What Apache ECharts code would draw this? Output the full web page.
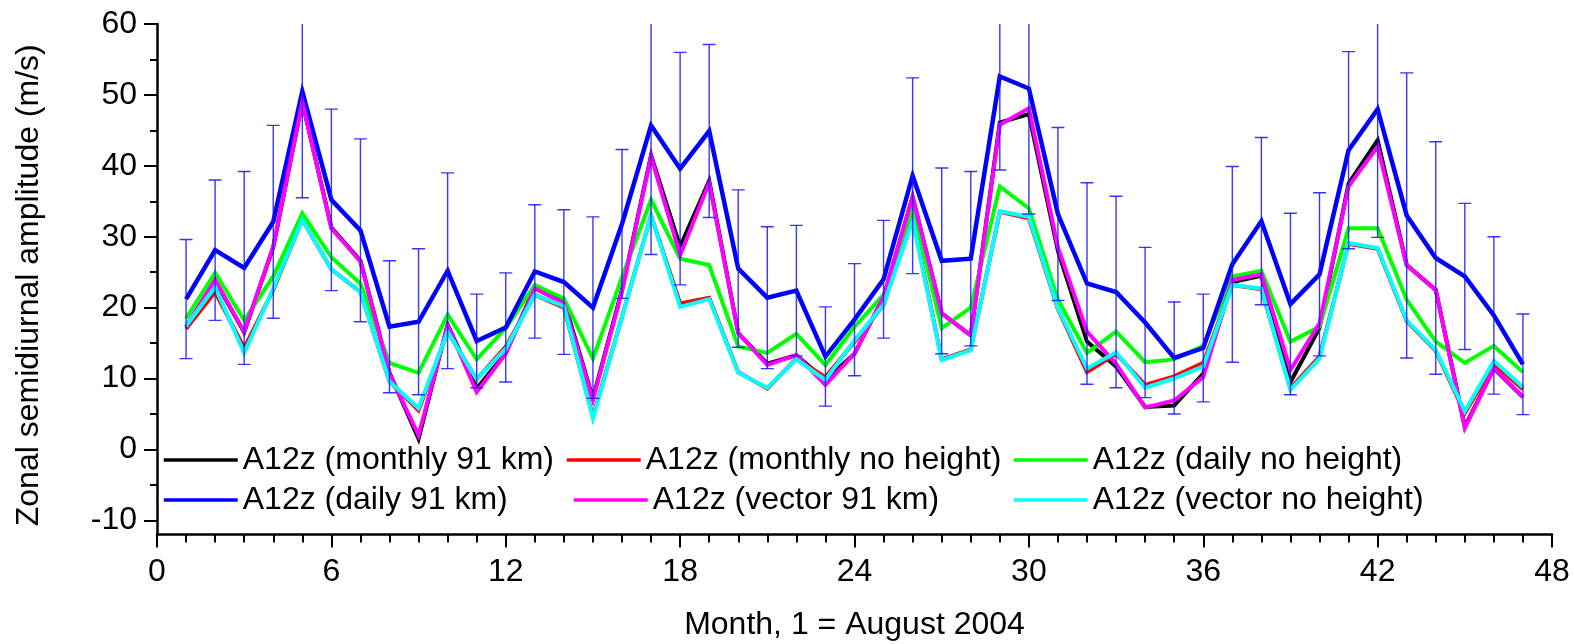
<!DOCTYPE html>
<html>
<head>
<meta charset="utf-8">
<title>Zonal semidiurnal amplitude</title>
<script src="https://cdn.jsdelivr.net/npm/echarts@6/dist/echarts.min.js"></script>
<style>
  html, body { margin: 0; padding: 0; background: #fff; }
  #chart { width: 1574px; height: 644px; }
</style>
</head>
<body>
<div id="chart"></div>
<script>
// Month index, 1 = August 2004
const months = [1, 2, 3, 4, 5, 6, 7, 8, 9, 10, 11, 12, 13, 14, 15, 16, 17, 18, 19, 20,
  21, 22, 23, 24, 25, 26, 27, 28, 29, 30, 31, 32, 33, 34, 35, 36, 37, 38, 39, 40,
  41, 42, 43, 44, 45, 46, 47];

const seriesNames = [
  'A12z (monthly 91 km)',
  'A12z (monthly no height)',
  'A12z (daily no height)',
  'A12z (daily 91 km)',
  'A12z (vector 91 km)',
  'A12z (vector no height)'
];

const monthly91 = [17.3, 23.8, 16.5, 28.5, 49.0, 31.3, 26.6, 10.8, 1.5, 17.6, 8.6, 13.6, 22.9,
  21.0, 7.2, 22.5, 41.5, 28.6, 37.9, 16.4, 12.1, 13.3, 9.8, 13.5, 21.5, 35.6, 19.2, 16.1,
  46.1, 47.3, 28.0, 15.2, 11.7, 6.0, 6.2, 10.7, 23.6, 24.5, 9.5, 17.1, 37.5, 43.6, 26.0,
  22.5, 3.2, 11.4, 7.4];

const monthlyNoHeight = [17.0, 22.2, 14.3, 22.5, 32.4, 25.4, 22.2, 9.6, 5.5, 16.6, 9.9, 14.5, 21.8,
  20.0, 4.6, 18.7, 33.0, 20.6, 21.4, 10.9, 8.6, 12.8, 10.2, 15.2, 20.4, 32.6, 12.7, 14.1,
  33.5, 32.6, 19.8, 10.9, 13.5, 9.1, 10.3, 12.2, 23.2, 22.6, 8.6, 13.1, 29.0, 28.3, 18.1,
  13.9, 5.1, 12.1, 8.5];

const dailyNoHeight = [18.5, 24.9, 18.2, 24.4, 33.3, 27.1, 23.4, 12.2, 10.8, 19.0, 12.7, 17.1, 23.2,
  21.3, 12.8, 24.3, 35.2, 26.9, 26.0, 14.5, 13.6, 16.3, 11.9, 17.3, 21.8, 34.4, 17.1, 20.0,
  37.1, 34.0, 21.1, 13.6, 16.6, 12.3, 12.7, 14.6, 24.4, 25.2, 15.2, 17.3, 31.2, 31.2, 21.1,
  15.2, 12.2, 14.6, 10.9];

const daily91 = [21.2, 28.1, 25.6, 32.1, 50.5, 35.2, 30.9, 17.3, 18.0, 25.2, 15.3, 17.2, 25.1,
  23.6, 20.0, 31.8, 45.7, 39.6, 44.9, 25.5, 21.4, 22.4, 13.1, 18.3, 24.0, 38.6, 26.6, 26.9,
  52.6, 50.9, 33.2, 23.4, 22.2, 17.9, 12.9, 14.3, 26.1, 32.2, 20.5, 24.7, 42.2, 48.0, 33.0,
  27.0, 24.4, 18.9, 12.0];

// half-width of the error bar on the daily 91 km series
const daily91Err = [8.4, 9.9, 13.6, 13.6, 15.0, 12.8, 12.9, 9.3, 10.3, 13.8, 6.6, 7.7, 9.4,
  10.2, 12.8, 10.5, 18.2, 16.4, 12.2, 11.1, 10.0, 9.2, 7.0, 7.9, 8.3, 13.8, 13.1, 12.3,
  13.2, 17.7, 12.2, 14.2, 13.5, 10.6, 7.9, 7.6, 13.8, 11.8, 12.8, 11.5, 13.9, 18.1, 20.1,
  16.4, 10.3, 11.1, 7.1];

const vector91 = [17.3, 23.9, 16.6, 28.6, 49.0, 31.2, 26.5, 10.7, 2.0, 17.5, 8.1, 13.5, 22.7,
  20.6, 7.0, 22.3, 41.3, 27.4, 37.6, 16.4, 11.9, 13.3, 9.1, 13.5, 21.5, 35.6, 19.2, 16.1,
  45.8, 48.1, 28.5, 16.6, 12.1, 5.9, 6.9, 10.2, 23.9, 24.7, 11.2, 17.8, 37.1, 42.7, 26.0,
  22.5, 3.0, 11.4, 7.4];

const vectorNoHeight = [17.4, 22.9, 13.6, 22.7, 32.4, 25.4, 22.2, 9.6, 5.8, 16.6, 9.9, 14.2, 21.8,
  20.2, 4.4, 18.7, 33.0, 20.1, 21.2, 10.8, 8.7, 12.7, 9.8, 15.4, 20.4, 32.3, 12.6, 14.0,
  33.6, 32.8, 19.9, 11.4, 13.7, 8.7, 10.0, 11.7, 23.2, 22.7, 8.4, 12.8, 29.1, 28.4, 18.2,
  14.0, 5.4, 12.5, 8.8];

// axis ticks
const yTicks = [-10, 0, 10, 20, 30, 40, 50, 60];
const yMinorTicks = [-5, 5, 15, 25, 35, 45, 55];
const xTicks = [0, 6, 12, 18, 24, 30, 36, 42, 48];

const FONT = '"Liberation Sans", Arial, Helvetica, sans-serif';
const FS = 32;
const colors = ['#000000', '#ff0000', '#00ff00', '#0000ff', '#ff00ff', '#00ffff'];
const valueSets = [monthly91, monthlyNoHeight, dailyNoHeight, daily91, vector91, vectorNoHeight];
const widths = [4, 4, 4, 4.5, 4, 4];

const pairs = (vals) => vals.map((v, i) => [months[i], v]);

const lineSeries = seriesNames.map((name, k) => ({
  name: name,
  type: 'line',
  data: pairs(valueSets[k]),
  symbol: 'none',
  showSymbol: false,
  lineStyle: { color: colors[k], width: widths[k], join: 'miter' },
  itemStyle: { color: colors[k] },
  z: 2 + k
}));

const errorSeries = {
  type: 'custom',
  clip: true,
  z: 20,
  data: daily91.map((v, i) => [months[i], v - daily91Err[i], v + daily91Err[i]]),
  renderItem: function (params, api) {
    const x = api.value(0);
    const lo = api.coord([x, api.value(1)]);
    const hi = api.coord([x, api.value(2)]);
    const half = 6.5;
    const style = { stroke: 'rgba(20,20,255,0.85)', lineWidth: 1.4 };
    return {
      type: 'group',
      children: [
        { type: 'line', shape: { x1: lo[0], y1: lo[1], x2: hi[0], y2: hi[1] }, style: style },
        { type: 'line', shape: { x1: hi[0] - half, y1: hi[1], x2: hi[0] + half, y2: hi[1] }, style: style },
        { type: 'line', shape: { x1: lo[0] - half, y1: lo[1], x2: lo[0] + half, y2: lo[1] }, style: style }
      ]
    };
  }
};

// legend laid out as two rows of three entries
const legendSpots = [
  { left: 162, top: 444 },
  { left: 565, top: 444 },
  { left: 1012, top: 444 },
  { left: 162, top: 484 },
  { left: 572, top: 484 },
  { left: 1012, top: 484 }
];

const legends = seriesNames.map((name, k) => ({
  data: [name],
  left: legendSpots[k].left,
  top: legendSpots[k].top,
  orient: 'horizontal',
  padding: 0,
  itemWidth: 74,
  itemHeight: 14,
  selectedMode: false,
  itemStyle: { opacity: 0 },
  lineStyle: { width: 3.5 },
  textStyle: { fontFamily: FONT, fontSize: FS, color: '#000' }
}));

const axisLineStyle = { color: '#000', width: 2.5 };
const tickStyle = { color: '#000', width: 2 };

const option = {
  backgroundColor: '#ffffff',
  animation: false,
  grid: { left: 157, right: 22, top: 24, bottom: 109.5, outerBoundsMode: 'none', containLabel: false },
  legend: legends,
  xAxis: {
    type: 'value',
    min: xTicks[0],
    max: xTicks[xTicks.length - 1],
    interval: 6,
    name: 'Month, 1 = August 2004',
    nameLocation: 'middle',
    nameGap: 75,
    nameTextStyle: { fontFamily: FONT, fontSize: FS, color: '#000' },
    axisLine: { show: true, onZero: false, lineStyle: axisLineStyle },
    axisTick: { show: true, length: 13, lineStyle: tickStyle },
    minorTick: { show: true, splitNumber: 6, length: 8, lineStyle: tickStyle },
    axisLabel: { fontFamily: FONT, fontSize: FS, color: '#000', margin: 22 },
    splitLine: { show: false },
    minorSplitLine: { show: false }
  },
  yAxis: [
    {
      type: 'value',
      min: -12,
      max: 60,
      position: 'left',
      name: 'Zonal semidiurnal amplitude (m/s)',
      nameLocation: 'middle',
      nameGap: 112,
      nameTextStyle: { fontFamily: FONT, fontSize: FS, color: '#000', padding: [0, 12, 0, 0] },
      axisLine: { show: true, onZero: false, lineStyle: axisLineStyle },
      axisTick: { show: true, length: 13, lineStyle: tickStyle, customValues: yTicks },
      axisLabel: { fontFamily: FONT, fontSize: FS, color: '#000', margin: 20, customValues: yTicks },
      splitLine: { show: false }
    },
    {
      type: 'value',
      min: -12,
      max: 60,
      position: 'left',
      axisLine: { show: false, onZero: false },
      axisTick: { show: true, length: 7, lineStyle: tickStyle, customValues: yMinorTicks },
      axisLabel: { show: false },
      splitLine: { show: false }
    }
  ],
  series: lineSeries.concat([errorSeries])
};

const chart = echarts.init(document.getElementById('chart'), null, { renderer: 'canvas' });
chart.setOption(option);
</script>
</body>
</html>
